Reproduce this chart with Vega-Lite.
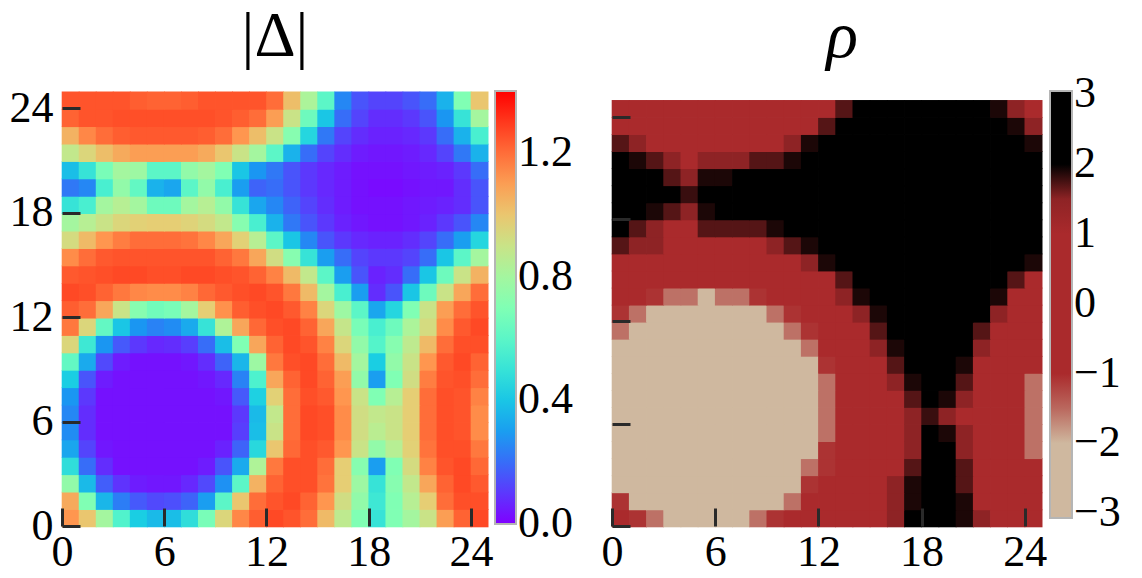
{
  "$schema": "https://vega.github.io/schema/vega-lite/v6.json",
  "background": "white",
  "padding": {"left": 9, "top": 4, "right": 0, "bottom": 0},
  "bounds": "flush",
  "spacing": 124,
  "config": {
    "font": "Liberation Serif",
    "view": {"stroke": null},
    "axis": {
      "labelFont": "Liberation Serif", "labelFontSize": 44, "labelColor": "black",
      "domain": false, "grid": false, "ticks": true, "tickSize": -18, "tickWidth": 3,
      "tickColor": "#2a2a2a", "title": null,
      "labelFlush": false, "labelOverlap": false, "labelBound": false
    },
    "legend": {
      "labelFont": "Liberation Serif", "labelFontSize": 44, "labelColor": "black",
      "gradientStrokeColor": "#b5b5b5", "gradientStrokeWidth": 2, "labelOffset": 5
    }
  },
  "data": {"values": [
    {"x":0,"y":0,"d":1.12,"r":0},{"x":1,"y":0,"d":1.0,"r":-1.2},{"x":2,"y":0,"d":0.8,"r":-1.55},{"x":3,"y":0,"d":0.57,"r":-2.4},{"x":4,"y":0,"d":0.42,"r":-2.4},{"x":5,"y":0,"d":0.37,"r":-2.4},{"x":6,"y":0,"d":0.38,"r":-2.4},{"x":7,"y":0,"d":0.48,"r":-2.4},{"x":8,"y":0,"d":0.68,"r":-1.55},{"x":9,"y":0,"d":0.95,"r":-1.2},{"x":10,"y":0,"d":1.15,"r":0},{"x":11,"y":0,"d":1.23,"r":0},{"x":12,"y":0,"d":1.27,"r":0},{"x":13,"y":0,"d":1.25,"r":0},{"x":14,"y":0,"d":1.2,"r":0},{"x":15,"y":0,"d":1.03,"r":0},{"x":16,"y":0,"d":0.87,"r":1.5},{"x":17,"y":0,"d":0.7,"r":3},{"x":18,"y":0,"d":0.5,"r":3},{"x":19,"y":0,"d":0.7,"r":3},{"x":20,"y":0,"d":0.8,"r":1.9},{"x":21,"y":0,"d":0.9,"r":1.5},{"x":22,"y":0,"d":1.1,"r":0},{"x":23,"y":0,"d":1.22,"r":0},{"x":24,"y":0,"d":1.27,"r":0},
    {"x":0,"y":1,"d":1.07,"r":-1.2},{"x":1,"y":1,"d":0.7,"r":-2.4},{"x":2,"y":1,"d":0.36,"r":-3},{"x":3,"y":1,"d":0.23,"r":-3},{"x":4,"y":1,"d":0.16,"r":-3},{"x":5,"y":1,"d":0.13,"r":-3},{"x":6,"y":1,"d":0.14,"r":-3},{"x":7,"y":1,"d":0.18,"r":-3},{"x":8,"y":1,"d":0.3,"r":-3},{"x":9,"y":1,"d":0.6,"r":-2.4},{"x":10,"y":1,"d":1.0,"r":-1.55},{"x":11,"y":1,"d":1.2,"r":0},{"x":12,"y":1,"d":1.25,"r":0},{"x":13,"y":1,"d":1.27,"r":0},{"x":14,"y":1,"d":1.22,"r":0},{"x":15,"y":1,"d":1.12,"r":0},{"x":16,"y":1,"d":0.92,"r":1.5},{"x":17,"y":1,"d":0.75,"r":1.9},{"x":18,"y":1,"d":0.52,"r":3},{"x":19,"y":1,"d":0.7,"r":3},{"x":20,"y":1,"d":0.85,"r":1.9},{"x":21,"y":1,"d":0.98,"r":0},{"x":22,"y":1,"d":1.2,"r":0},{"x":23,"y":1,"d":1.26,"r":0},{"x":24,"y":1,"d":1.26,"r":0},
    {"x":0,"y":2,"d":0.75,"r":-2.4},{"x":1,"y":2,"d":0.37,"r":-3},{"x":2,"y":2,"d":0.17,"r":-3},{"x":3,"y":2,"d":0.09,"r":-3},{"x":4,"y":2,"d":0.05,"r":-3},{"x":5,"y":2,"d":0.04,"r":-3},{"x":6,"y":2,"d":0.04,"r":-3},{"x":7,"y":2,"d":0.07,"r":-3},{"x":8,"y":2,"d":0.13,"r":-3},{"x":9,"y":2,"d":0.27,"r":-3},{"x":10,"y":2,"d":0.6,"r":-2.4},{"x":11,"y":2,"d":1.05,"r":-1.2},{"x":12,"y":2,"d":1.22,"r":0},{"x":13,"y":2,"d":1.26,"r":0},{"x":14,"y":2,"d":1.26,"r":0},{"x":15,"y":2,"d":1.19,"r":0},{"x":16,"y":2,"d":0.98,"r":1.5},{"x":17,"y":2,"d":0.78,"r":1.9},{"x":18,"y":2,"d":0.5,"r":3},{"x":19,"y":2,"d":0.72,"r":3},{"x":20,"y":2,"d":0.88,"r":1.7},{"x":21,"y":2,"d":1.08,"r":0},{"x":22,"y":2,"d":1.22,"r":0},{"x":23,"y":2,"d":1.27,"r":0},{"x":24,"y":2,"d":1.24,"r":0},
    {"x":0,"y":3,"d":0.48,"r":-3},{"x":1,"y":3,"d":0.2,"r":-3},{"x":2,"y":3,"d":0.08,"r":-3},{"x":3,"y":3,"d":0.03,"r":-3},{"x":4,"y":3,"d":0.03,"r":-3},{"x":5,"y":3,"d":0.03,"r":-3},{"x":6,"y":3,"d":0.03,"r":-3},{"x":7,"y":3,"d":0.03,"r":-3},{"x":8,"y":3,"d":0.05,"r":-3},{"x":9,"y":3,"d":0.15,"r":-3},{"x":10,"y":3,"d":0.33,"r":-3},{"x":11,"y":3,"d":0.83,"r":-1.55},{"x":12,"y":3,"d":1.18,"r":-1.2},{"x":13,"y":3,"d":1.26,"r":0},{"x":14,"y":3,"d":1.26,"r":0},{"x":15,"y":3,"d":1.2,"r":0},{"x":16,"y":3,"d":0.98,"r":0},{"x":17,"y":3,"d":0.72,"r":1.7},{"x":18,"y":3,"d":0.3,"r":3},{"x":19,"y":3,"d":0.7,"r":3},{"x":20,"y":3,"d":0.93,"r":1.7},{"x":21,"y":3,"d":1.16,"r":0},{"x":22,"y":3,"d":1.25,"r":0},{"x":23,"y":3,"d":1.27,"r":0},{"x":24,"y":3,"d":1.21,"r":0},
    {"x":0,"y":4,"d":0.32,"r":-3},{"x":1,"y":4,"d":0.12,"r":-3},{"x":2,"y":4,"d":0.04,"r":-3},{"x":3,"y":4,"d":0.03,"r":-3},{"x":4,"y":4,"d":0.03,"r":-3},{"x":5,"y":4,"d":0.03,"r":-3},{"x":6,"y":4,"d":0.03,"r":-3},{"x":7,"y":4,"d":0.03,"r":-3},{"x":8,"y":4,"d":0.03,"r":-3},{"x":9,"y":4,"d":0.06,"r":-3},{"x":10,"y":4,"d":0.18,"r":-3},{"x":11,"y":4,"d":0.46,"r":-2.4},{"x":12,"y":4,"d":1.0,"r":-1.2},{"x":13,"y":4,"d":1.21,"r":0},{"x":14,"y":4,"d":1.26,"r":0},{"x":15,"y":4,"d":1.24,"r":0},{"x":16,"y":4,"d":1.12,"r":0},{"x":17,"y":4,"d":0.9,"r":1.5},{"x":18,"y":4,"d":0.75,"r":3},{"x":19,"y":4,"d":0.85,"r":2.3},{"x":20,"y":4,"d":0.97,"r":1.5},{"x":21,"y":4,"d":1.19,"r":0},{"x":22,"y":4,"d":1.26,"r":0},{"x":23,"y":4,"d":1.26,"r":0},{"x":24,"y":4,"d":1.18,"r":-1.55},
    {"x":0,"y":5,"d":0.26,"r":-3},{"x":1,"y":5,"d":0.08,"r":-3},{"x":2,"y":5,"d":0.03,"r":-3},{"x":3,"y":5,"d":0.03,"r":-3},{"x":4,"y":5,"d":0.03,"r":-3},{"x":5,"y":5,"d":0.03,"r":-3},{"x":6,"y":5,"d":0.03,"r":-3},{"x":7,"y":5,"d":0.03,"r":-3},{"x":8,"y":5,"d":0.03,"r":-3},{"x":9,"y":5,"d":0.03,"r":-3},{"x":10,"y":5,"d":0.11,"r":-3},{"x":11,"y":5,"d":0.38,"r":-3},{"x":12,"y":5,"d":0.9,"r":-1.55},{"x":13,"y":5,"d":1.2,"r":0},{"x":14,"y":5,"d":1.27,"r":0},{"x":15,"y":5,"d":1.26,"r":0},{"x":16,"y":5,"d":1.14,"r":0},{"x":17,"y":5,"d":0.92,"r":1.5},{"x":18,"y":5,"d":0.86,"r":2.3},{"x":19,"y":5,"d":0.9,"r":1.9},{"x":20,"y":5,"d":0.98,"r":1.5},{"x":21,"y":5,"d":1.2,"r":0},{"x":22,"y":5,"d":1.26,"r":0},{"x":23,"y":5,"d":1.25,"r":0},{"x":24,"y":5,"d":1.14,"r":-1.55},
    {"x":0,"y":6,"d":0.25,"r":-3},{"x":1,"y":6,"d":0.08,"r":-3},{"x":2,"y":6,"d":0.03,"r":-3},{"x":3,"y":6,"d":0.03,"r":-3},{"x":4,"y":6,"d":0.03,"r":-3},{"x":5,"y":6,"d":0.03,"r":-3},{"x":6,"y":6,"d":0.03,"r":-3},{"x":7,"y":6,"d":0.03,"r":-3},{"x":8,"y":6,"d":0.03,"r":-3},{"x":9,"y":6,"d":0.03,"r":-3},{"x":10,"y":6,"d":0.1,"r":-3},{"x":11,"y":6,"d":0.37,"r":-3},{"x":12,"y":6,"d":0.88,"r":-1.55},{"x":13,"y":6,"d":1.2,"r":0},{"x":14,"y":6,"d":1.27,"r":0},{"x":15,"y":6,"d":1.26,"r":0},{"x":16,"y":6,"d":1.14,"r":0},{"x":17,"y":6,"d":0.92,"r":1.5},{"x":18,"y":6,"d":0.88,"r":1.8},{"x":19,"y":6,"d":0.9,"r":1.5},{"x":20,"y":6,"d":0.98,"r":0},{"x":21,"y":6,"d":1.2,"r":0},{"x":22,"y":6,"d":1.26,"r":0},{"x":23,"y":6,"d":1.25,"r":0},{"x":24,"y":6,"d":1.14,"r":-1.55},
    {"x":0,"y":7,"d":0.28,"r":-3},{"x":1,"y":7,"d":0.1,"r":-3},{"x":2,"y":7,"d":0.03,"r":-3},{"x":3,"y":7,"d":0.03,"r":-3},{"x":4,"y":7,"d":0.03,"r":-3},{"x":5,"y":7,"d":0.03,"r":-3},{"x":6,"y":7,"d":0.03,"r":-3},{"x":7,"y":7,"d":0.03,"r":-3},{"x":8,"y":7,"d":0.03,"r":-3},{"x":9,"y":7,"d":0.04,"r":-3},{"x":10,"y":7,"d":0.16,"r":-3},{"x":11,"y":7,"d":0.43,"r":-3},{"x":12,"y":7,"d":0.97,"r":-1.55},{"x":13,"y":7,"d":1.2,"r":0},{"x":14,"y":7,"d":1.26,"r":0},{"x":15,"y":7,"d":1.24,"r":0},{"x":16,"y":7,"d":1.12,"r":0},{"x":17,"y":7,"d":0.9,"r":1.7},{"x":18,"y":7,"d":0.7,"r":3},{"x":19,"y":7,"d":0.85,"r":1.9},{"x":20,"y":7,"d":0.98,"r":1.5},{"x":21,"y":7,"d":1.2,"r":0},{"x":22,"y":7,"d":1.26,"r":0},{"x":23,"y":7,"d":1.25,"r":0},{"x":24,"y":7,"d":1.16,"r":-1.55},
    {"x":0,"y":8,"d":0.42,"r":-3},{"x":1,"y":8,"d":0.15,"r":-3},{"x":2,"y":8,"d":0.05,"r":-3},{"x":3,"y":8,"d":0.03,"r":-3},{"x":4,"y":8,"d":0.03,"r":-3},{"x":5,"y":8,"d":0.03,"r":-3},{"x":6,"y":8,"d":0.03,"r":-3},{"x":7,"y":8,"d":0.03,"r":-3},{"x":8,"y":8,"d":0.04,"r":-3},{"x":9,"y":8,"d":0.07,"r":-3},{"x":10,"y":8,"d":0.24,"r":-3},{"x":11,"y":8,"d":0.56,"r":-3},{"x":12,"y":8,"d":1.08,"r":-1.55},{"x":13,"y":8,"d":1.22,"r":0},{"x":14,"y":8,"d":1.27,"r":0},{"x":15,"y":8,"d":1.22,"r":0},{"x":16,"y":8,"d":1.1,"r":1.5},{"x":17,"y":8,"d":0.75,"r":1.9},{"x":18,"y":8,"d":0.3,"r":3},{"x":19,"y":8,"d":0.7,"r":3},{"x":20,"y":8,"d":0.92,"r":1.7},{"x":21,"y":8,"d":1.17,"r":0},{"x":22,"y":8,"d":1.25,"r":0},{"x":23,"y":8,"d":1.26,"r":0},{"x":24,"y":8,"d":1.2,"r":-1.55},
    {"x":0,"y":9,"d":0.62,"r":-3},{"x":1,"y":9,"d":0.33,"r":-3},{"x":2,"y":9,"d":0.13,"r":-3},{"x":3,"y":9,"d":0.05,"r":-3},{"x":4,"y":9,"d":0.03,"r":-3},{"x":5,"y":9,"d":0.03,"r":-3},{"x":6,"y":9,"d":0.03,"r":-3},{"x":7,"y":9,"d":0.04,"r":-3},{"x":8,"y":9,"d":0.08,"r":-3},{"x":9,"y":9,"d":0.18,"r":-3},{"x":10,"y":9,"d":0.36,"r":-3},{"x":11,"y":9,"d":0.78,"r":-2.4},{"x":12,"y":9,"d":1.18,"r":-1.2},{"x":13,"y":9,"d":1.26,"r":0},{"x":14,"y":9,"d":1.27,"r":0},{"x":15,"y":9,"d":1.2,"r":0},{"x":16,"y":9,"d":1.03,"r":1.7},{"x":17,"y":9,"d":0.8,"r":3},{"x":18,"y":9,"d":0.42,"r":3},{"x":19,"y":9,"d":0.75,"r":3},{"x":20,"y":9,"d":0.9,"r":1.9},{"x":21,"y":9,"d":1.12,"r":0},{"x":22,"y":9,"d":1.24,"r":0},{"x":23,"y":9,"d":1.27,"r":0},{"x":24,"y":9,"d":1.22,"r":0},
    {"x":0,"y":10,"d":0.95,"r":-2.4},{"x":1,"y":10,"d":0.52,"r":-3},{"x":2,"y":10,"d":0.28,"r":-3},{"x":3,"y":10,"d":0.16,"r":-3},{"x":4,"y":10,"d":0.1,"r":-3},{"x":5,"y":10,"d":0.07,"r":-3},{"x":6,"y":10,"d":0.08,"r":-3},{"x":7,"y":10,"d":0.11,"r":-3},{"x":8,"y":10,"d":0.2,"r":-3},{"x":9,"y":10,"d":0.38,"r":-3},{"x":10,"y":10,"d":0.7,"r":-3},{"x":11,"y":10,"d":1.08,"r":-1.55},{"x":12,"y":10,"d":1.22,"r":0},{"x":13,"y":10,"d":1.27,"r":0},{"x":14,"y":10,"d":1.25,"r":0},{"x":15,"y":10,"d":1.16,"r":1.5},{"x":16,"y":10,"d":0.95,"r":1.9},{"x":17,"y":10,"d":0.75,"r":3},{"x":18,"y":10,"d":0.58,"r":3},{"x":19,"y":10,"d":0.72,"r":3},{"x":20,"y":10,"d":0.87,"r":2.3},{"x":21,"y":10,"d":1.03,"r":1.5},{"x":22,"y":10,"d":1.2,"r":0},{"x":23,"y":10,"d":1.26,"r":0},{"x":24,"y":10,"d":1.26,"r":0},
    {"x":0,"y":11,"d":1.18,"r":-1.55},{"x":1,"y":11,"d":0.95,"r":-3},{"x":2,"y":11,"d":0.62,"r":-3},{"x":3,"y":11,"d":0.4,"r":-3},{"x":4,"y":11,"d":0.28,"r":-3},{"x":5,"y":11,"d":0.24,"r":-3},{"x":6,"y":11,"d":0.26,"r":-3},{"x":7,"y":11,"d":0.33,"r":-3},{"x":8,"y":11,"d":0.5,"r":-3},{"x":9,"y":11,"d":0.83,"r":-3},{"x":10,"y":11,"d":1.08,"r":-1.55},{"x":11,"y":11,"d":1.21,"r":-1.2},{"x":12,"y":11,"d":1.26,"r":0},{"x":13,"y":11,"d":1.27,"r":0},{"x":14,"y":11,"d":1.22,"r":0},{"x":15,"y":11,"d":1.08,"r":1.7},{"x":16,"y":11,"d":0.89,"r":3},{"x":17,"y":11,"d":0.68,"r":3},{"x":18,"y":11,"d":0.55,"r":3},{"x":19,"y":11,"d":0.65,"r":3},{"x":20,"y":11,"d":0.82,"r":3},{"x":21,"y":11,"d":0.93,"r":1.7},{"x":22,"y":11,"d":1.14,"r":0},{"x":23,"y":11,"d":1.24,"r":0},{"x":24,"y":11,"d":1.27,"r":0},
    {"x":0,"y":12,"d":1.23,"r":-1.2},{"x":1,"y":12,"d":1.2,"r":-1.55},{"x":2,"y":12,"d":1.08,"r":-2.4},{"x":3,"y":12,"d":0.9,"r":-3},{"x":4,"y":12,"d":0.72,"r":-3},{"x":5,"y":12,"d":0.66,"r":-3},{"x":6,"y":12,"d":0.68,"r":-3},{"x":7,"y":12,"d":0.8,"r":-3},{"x":8,"y":12,"d":0.98,"r":-2.4},{"x":9,"y":12,"d":1.13,"r":-1.55},{"x":10,"y":12,"d":1.23,"r":-1.2},{"x":11,"y":12,"d":1.26,"r":0},{"x":12,"y":12,"d":1.27,"r":0},{"x":13,"y":12,"d":1.24,"r":0},{"x":14,"y":12,"d":1.16,"r":1.5},{"x":15,"y":12,"d":0.95,"r":1.9},{"x":16,"y":12,"d":0.78,"r":3},{"x":17,"y":12,"d":0.6,"r":3},{"x":18,"y":12,"d":0.32,"r":3},{"x":19,"y":12,"d":0.45,"r":3},{"x":20,"y":12,"d":0.7,"r":3},{"x":21,"y":12,"d":0.9,"r":2.3},{"x":22,"y":12,"d":1.1,"r":1.5},{"x":23,"y":12,"d":1.2,"r":0},{"x":24,"y":12,"d":1.25,"r":0},
    {"x":0,"y":13,"d":1.27,"r":0},{"x":1,"y":13,"d":1.26,"r":0},{"x":2,"y":13,"d":1.22,"r":-1.2},{"x":3,"y":13,"d":1.18,"r":-1.55},{"x":4,"y":13,"d":1.15,"r":-1.55},{"x":5,"y":13,"d":1.14,"r":-2.4},{"x":6,"y":13,"d":1.14,"r":-1.55},{"x":7,"y":13,"d":1.16,"r":-1.55},{"x":8,"y":13,"d":1.21,"r":-1.2},{"x":9,"y":13,"d":1.24,"r":0},{"x":10,"y":13,"d":1.26,"r":0},{"x":11,"y":13,"d":1.27,"r":0},{"x":12,"y":13,"d":1.25,"r":0},{"x":13,"y":13,"d":1.18,"r":1.5},{"x":14,"y":13,"d":1.03,"r":1.9},{"x":15,"y":13,"d":0.8,"r":3},{"x":16,"y":13,"d":0.55,"r":3},{"x":17,"y":13,"d":0.3,"r":3},{"x":18,"y":13,"d":0.08,"r":3},{"x":19,"y":13,"d":0.15,"r":3},{"x":20,"y":13,"d":0.4,"r":3},{"x":21,"y":13,"d":0.65,"r":3},{"x":22,"y":13,"d":0.9,"r":1.9},{"x":23,"y":13,"d":1.08,"r":0},{"x":24,"y":13,"d":1.2,"r":0},
    {"x":0,"y":14,"d":1.24,"r":0},{"x":1,"y":14,"d":1.25,"r":0},{"x":2,"y":14,"d":1.26,"r":0},{"x":3,"y":14,"d":1.27,"r":0},{"x":4,"y":14,"d":1.27,"r":0},{"x":5,"y":14,"d":1.26,"r":0},{"x":6,"y":14,"d":1.26,"r":0},{"x":7,"y":14,"d":1.27,"r":0},{"x":8,"y":14,"d":1.27,"r":0},{"x":9,"y":14,"d":1.26,"r":0},{"x":10,"y":14,"d":1.25,"r":0},{"x":11,"y":14,"d":1.22,"r":0},{"x":12,"y":14,"d":1.16,"r":0},{"x":13,"y":14,"d":1.03,"r":1.7},{"x":14,"y":14,"d":0.88,"r":3},{"x":15,"y":14,"d":0.6,"r":3},{"x":16,"y":14,"d":0.3,"r":3},{"x":17,"y":14,"d":0.15,"r":3},{"x":18,"y":14,"d":0.06,"r":3},{"x":19,"y":14,"d":0.08,"r":3},{"x":20,"y":14,"d":0.2,"r":3},{"x":21,"y":14,"d":0.4,"r":3},{"x":22,"y":14,"d":0.65,"r":3},{"x":23,"y":14,"d":0.9,"r":1.7},{"x":24,"y":14,"d":1.05,"r":0},
    {"x":0,"y":15,"d":1.14,"r":0},{"x":1,"y":15,"d":1.2,"r":0},{"x":2,"y":15,"d":1.24,"r":0},{"x":3,"y":15,"d":1.25,"r":0},{"x":4,"y":15,"d":1.25,"r":0},{"x":5,"y":15,"d":1.25,"r":0},{"x":6,"y":15,"d":1.25,"r":0},{"x":7,"y":15,"d":1.25,"r":0},{"x":8,"y":15,"d":1.25,"r":0},{"x":9,"y":15,"d":1.22,"r":0},{"x":10,"y":15,"d":1.18,"r":0},{"x":11,"y":15,"d":1.08,"r":1.5},{"x":12,"y":15,"d":0.92,"r":1.9},{"x":13,"y":15,"d":0.72,"r":3},{"x":14,"y":15,"d":0.5,"r":3},{"x":15,"y":15,"d":0.3,"r":3},{"x":16,"y":15,"d":0.2,"r":3},{"x":17,"y":15,"d":0.12,"r":3},{"x":18,"y":15,"d":0.1,"r":3},{"x":19,"y":15,"d":0.1,"r":3},{"x":20,"y":15,"d":0.12,"r":3},{"x":21,"y":15,"d":0.2,"r":3},{"x":22,"y":15,"d":0.4,"r":3},{"x":23,"y":15,"d":0.6,"r":3},{"x":24,"y":15,"d":0.8,"r":1.9},
    {"x":0,"y":16,"d":0.93,"r":1.7},{"x":1,"y":16,"d":1.03,"r":1.5},{"x":2,"y":16,"d":1.12,"r":1.5},{"x":3,"y":16,"d":1.17,"r":0},{"x":4,"y":16,"d":1.2,"r":0},{"x":5,"y":16,"d":1.2,"r":0},{"x":6,"y":16,"d":1.2,"r":0},{"x":7,"y":16,"d":1.19,"r":0},{"x":8,"y":16,"d":1.15,"r":0},{"x":9,"y":16,"d":1.08,"r":1.5},{"x":10,"y":16,"d":0.97,"r":1.7},{"x":11,"y":16,"d":0.85,"r":1.9},{"x":12,"y":16,"d":0.6,"r":3},{"x":13,"y":16,"d":0.4,"r":3},{"x":14,"y":16,"d":0.25,"r":3},{"x":15,"y":16,"d":0.15,"r":3},{"x":16,"y":16,"d":0.1,"r":3},{"x":17,"y":16,"d":0.07,"r":3},{"x":18,"y":16,"d":0.06,"r":3},{"x":19,"y":16,"d":0.06,"r":3},{"x":20,"y":16,"d":0.08,"r":3},{"x":21,"y":16,"d":0.12,"r":3},{"x":22,"y":16,"d":0.2,"r":3},{"x":23,"y":16,"d":0.3,"r":3},{"x":24,"y":16,"d":0.45,"r":3},
    {"x":0,"y":17,"d":0.8,"r":3},{"x":1,"y":17,"d":0.85,"r":1.7},{"x":2,"y":17,"d":0.9,"r":1.5},{"x":3,"y":17,"d":0.95,"r":0},{"x":4,"y":17,"d":0.97,"r":0},{"x":5,"y":17,"d":0.98,"r":1.7},{"x":6,"y":17,"d":0.98,"r":1.7},{"x":7,"y":17,"d":0.96,"r":1.7},{"x":8,"y":17,"d":0.93,"r":1.7},{"x":9,"y":17,"d":0.88,"r":1.9},{"x":10,"y":17,"d":0.72,"r":3},{"x":11,"y":17,"d":0.55,"r":3},{"x":12,"y":17,"d":0.35,"r":3},{"x":13,"y":17,"d":0.22,"r":3},{"x":14,"y":17,"d":0.15,"r":3},{"x":15,"y":17,"d":0.1,"r":3},{"x":16,"y":17,"d":0.06,"r":3},{"x":17,"y":17,"d":0.04,"r":3},{"x":18,"y":17,"d":0.03,"r":3},{"x":19,"y":17,"d":0.03,"r":3},{"x":20,"y":17,"d":0.04,"r":3},{"x":21,"y":17,"d":0.06,"r":3},{"x":22,"y":17,"d":0.1,"r":3},{"x":23,"y":17,"d":0.15,"r":3},{"x":24,"y":17,"d":0.25,"r":3},
    {"x":0,"y":18,"d":0.5,"r":3},{"x":1,"y":18,"d":0.55,"r":3},{"x":2,"y":18,"d":0.8,"r":1.9},{"x":3,"y":18,"d":0.85,"r":1.7},{"x":4,"y":18,"d":0.8,"r":1.5},{"x":5,"y":18,"d":0.65,"r":1.9},{"x":6,"y":18,"d":0.65,"r":3},{"x":7,"y":18,"d":0.8,"r":3},{"x":8,"y":18,"d":0.85,"r":3},{"x":9,"y":18,"d":0.75,"r":3},{"x":10,"y":18,"d":0.5,"r":3},{"x":11,"y":18,"d":0.32,"r":3},{"x":12,"y":18,"d":0.25,"r":3},{"x":13,"y":18,"d":0.18,"r":3},{"x":14,"y":18,"d":0.12,"r":3},{"x":15,"y":18,"d":0.08,"r":3},{"x":16,"y":18,"d":0.05,"r":3},{"x":17,"y":18,"d":0.03,"r":3},{"x":18,"y":18,"d":0.03,"r":3},{"x":19,"y":18,"d":0.03,"r":3},{"x":20,"y":18,"d":0.04,"r":3},{"x":21,"y":18,"d":0.05,"r":3},{"x":22,"y":18,"d":0.06,"r":3},{"x":23,"y":18,"d":0.08,"r":3},{"x":24,"y":18,"d":0.15,"r":3},
    {"x":0,"y":19,"d":0.22,"r":3},{"x":1,"y":19,"d":0.25,"r":3},{"x":2,"y":19,"d":0.55,"r":3},{"x":3,"y":19,"d":0.75,"r":2.3},{"x":4,"y":19,"d":0.62,"r":1.8},{"x":5,"y":19,"d":0.35,"r":2.3},{"x":6,"y":19,"d":0.32,"r":3},{"x":7,"y":19,"d":0.6,"r":3},{"x":8,"y":19,"d":0.75,"r":3},{"x":9,"y":19,"d":0.55,"r":3},{"x":10,"y":19,"d":0.3,"r":3},{"x":11,"y":19,"d":0.18,"r":3},{"x":12,"y":19,"d":0.2,"r":3},{"x":13,"y":19,"d":0.15,"r":3},{"x":14,"y":19,"d":0.1,"r":3},{"x":15,"y":19,"d":0.07,"r":3},{"x":16,"y":19,"d":0.05,"r":3},{"x":17,"y":19,"d":0.03,"r":3},{"x":18,"y":19,"d":0.02,"r":3},{"x":19,"y":19,"d":0.02,"r":3},{"x":20,"y":19,"d":0.03,"r":3},{"x":21,"y":19,"d":0.04,"r":3},{"x":22,"y":19,"d":0.04,"r":3},{"x":23,"y":19,"d":0.08,"r":3},{"x":24,"y":19,"d":0.15,"r":3},
    {"x":0,"y":20,"d":0.38,"r":3},{"x":1,"y":20,"d":0.5,"r":3},{"x":2,"y":20,"d":0.68,"r":3},{"x":3,"y":20,"d":0.8,"r":1.7},{"x":4,"y":20,"d":0.78,"r":1.5},{"x":5,"y":20,"d":0.6,"r":1.9},{"x":6,"y":20,"d":0.6,"r":1.9},{"x":7,"y":20,"d":0.75,"r":2.3},{"x":8,"y":20,"d":0.8,"r":3},{"x":9,"y":20,"d":0.7,"r":3},{"x":10,"y":20,"d":0.4,"r":3},{"x":11,"y":20,"d":0.28,"r":3},{"x":12,"y":20,"d":0.22,"r":3},{"x":13,"y":20,"d":0.15,"r":3},{"x":14,"y":20,"d":0.1,"r":3},{"x":15,"y":20,"d":0.07,"r":3},{"x":16,"y":20,"d":0.05,"r":3},{"x":17,"y":20,"d":0.03,"r":3},{"x":18,"y":20,"d":0.03,"r":3},{"x":19,"y":20,"d":0.03,"r":3},{"x":20,"y":20,"d":0.04,"r":3},{"x":21,"y":20,"d":0.05,"r":3},{"x":22,"y":20,"d":0.06,"r":3},{"x":23,"y":20,"d":0.1,"r":3},{"x":24,"y":20,"d":0.2,"r":3},
    {"x":0,"y":21,"d":0.88,"r":3},{"x":1,"y":21,"d":0.95,"r":1.9},{"x":2,"y":21,"d":1.02,"r":1.7},{"x":3,"y":21,"d":1.07,"r":1.5},{"x":4,"y":21,"d":1.1,"r":0},{"x":5,"y":21,"d":1.1,"r":1.5},{"x":6,"y":21,"d":1.1,"r":1.5},{"x":7,"y":21,"d":1.1,"r":1.5},{"x":8,"y":21,"d":1.07,"r":1.7},{"x":9,"y":21,"d":1.0,"r":1.7},{"x":10,"y":21,"d":0.9,"r":1.9},{"x":11,"y":21,"d":0.8,"r":3},{"x":12,"y":21,"d":0.6,"r":3},{"x":13,"y":21,"d":0.35,"r":3},{"x":14,"y":21,"d":0.2,"r":3},{"x":15,"y":21,"d":0.12,"r":3},{"x":16,"y":21,"d":0.08,"r":3},{"x":17,"y":21,"d":0.05,"r":3},{"x":18,"y":21,"d":0.04,"r":3},{"x":19,"y":21,"d":0.04,"r":3},{"x":20,"y":21,"d":0.05,"r":3},{"x":21,"y":21,"d":0.07,"r":3},{"x":22,"y":21,"d":0.12,"r":3},{"x":23,"y":21,"d":0.22,"r":3},{"x":24,"y":21,"d":0.35,"r":3},
    {"x":0,"y":22,"d":1.05,"r":1.7},{"x":1,"y":22,"d":1.15,"r":1.5},{"x":2,"y":22,"d":1.2,"r":0},{"x":3,"y":22,"d":1.23,"r":0},{"x":4,"y":22,"d":1.24,"r":0},{"x":5,"y":22,"d":1.24,"r":0},{"x":6,"y":22,"d":1.24,"r":0},{"x":7,"y":22,"d":1.24,"r":0},{"x":8,"y":22,"d":1.23,"r":0},{"x":9,"y":22,"d":1.2,"r":0},{"x":10,"y":22,"d":1.12,"r":1.5},{"x":11,"y":22,"d":1.02,"r":1.9},{"x":12,"y":22,"d":0.9,"r":3},{"x":13,"y":22,"d":0.72,"r":3},{"x":14,"y":22,"d":0.45,"r":3},{"x":15,"y":22,"d":0.22,"r":3},{"x":16,"y":22,"d":0.12,"r":3},{"x":17,"y":22,"d":0.08,"r":3},{"x":18,"y":22,"d":0.06,"r":3},{"x":19,"y":22,"d":0.06,"r":3},{"x":20,"y":22,"d":0.07,"r":3},{"x":21,"y":22,"d":0.1,"r":3},{"x":22,"y":22,"d":0.2,"r":3},{"x":23,"y":22,"d":0.35,"r":3},{"x":24,"y":22,"d":0.55,"r":1.9},
    {"x":0,"y":23,"d":1.22,"r":0},{"x":1,"y":23,"d":1.25,"r":0},{"x":2,"y":23,"d":1.25,"r":0},{"x":3,"y":23,"d":1.26,"r":0},{"x":4,"y":23,"d":1.26,"r":0},{"x":5,"y":23,"d":1.26,"r":0},{"x":6,"y":23,"d":1.26,"r":0},{"x":7,"y":23,"d":1.26,"r":0},{"x":8,"y":23,"d":1.26,"r":0},{"x":9,"y":23,"d":1.25,"r":0},{"x":10,"y":23,"d":1.23,"r":0},{"x":11,"y":23,"d":1.2,"r":0},{"x":12,"y":23,"d":1.1,"r":1.7},{"x":13,"y":23,"d":0.9,"r":3},{"x":14,"y":23,"d":0.65,"r":3},{"x":15,"y":23,"d":0.4,"r":3},{"x":16,"y":23,"d":0.2,"r":3},{"x":17,"y":23,"d":0.12,"r":3},{"x":18,"y":23,"d":0.08,"r":3},{"x":19,"y":23,"d":0.08,"r":3},{"x":20,"y":23,"d":0.1,"r":3},{"x":21,"y":23,"d":0.15,"r":3},{"x":22,"y":23,"d":0.28,"r":3},{"x":23,"y":23,"d":0.5,"r":1.9},{"x":24,"y":23,"d":0.8,"r":1.5},
    {"x":0,"y":24,"d":1.25,"r":0},{"x":1,"y":24,"d":1.25,"r":0},{"x":2,"y":24,"d":1.25,"r":0},{"x":3,"y":24,"d":1.25,"r":0},{"x":4,"y":24,"d":1.23,"r":0},{"x":5,"y":24,"d":1.22,"r":0},{"x":6,"y":24,"d":1.22,"r":0},{"x":7,"y":24,"d":1.23,"r":0},{"x":8,"y":24,"d":1.25,"r":0},{"x":9,"y":24,"d":1.25,"r":0},{"x":10,"y":24,"d":1.25,"r":0},{"x":11,"y":24,"d":1.25,"r":0},{"x":12,"y":24,"d":1.2,"r":0},{"x":13,"y":24,"d":1.02,"r":1.7},{"x":14,"y":24,"d":0.82,"r":3},{"x":15,"y":24,"d":0.6,"r":3},{"x":16,"y":24,"d":0.25,"r":3},{"x":17,"y":24,"d":0.15,"r":3},{"x":18,"y":24,"d":0.12,"r":3},{"x":19,"y":24,"d":0.12,"r":3},{"x":20,"y":24,"d":0.15,"r":3},{"x":21,"y":24,"d":0.2,"r":3},{"x":22,"y":24,"d":0.35,"r":1.9},{"x":23,"y":24,"d":0.7,"r":1.5},{"x":24,"y":24,"d":1.0,"r":0}
  ]},
  "hconcat": [
    {
      "width": 426,
      "height": 435,
      "title": {"text": "|Δ|", "font": "Liberation Serif", "fontSize": 64, "fontWeight": "normal", "frame": "group", "offset": 17},
      "mark": {"type": "rect", "binSpacing": 0, "x2Offset": -0.8, "y2Offset": 0.8},
      "encoding": {
        "x": {"field": "x", "type": "quantitative", "bin": {"step": 1, "extent": [0, 25]},
              "axis": {"values": [0, 6, 12, 18, 24], "format": "d", "labelPadding": 22}},
        "y": {"field": "y", "type": "quantitative", "bin": {"step": 1, "extent": [0, 25]},
              "axis": {"values": [0, 6, 12, 18, 24], "format": "d", "labelPadding": 27}},
        "color": {
          "field": "d", "type": "quantitative",
          "scale": {
            "domain": [0, 0.14, 0.28, 0.42, 0.56, 0.7, 0.84, 0.98, 1.12, 1.26, 1.4],
            "range": ["#8000ff", "#4d4ffc", "#1a96f2", "#1acee3", "#4df2ce", "#80ffb4", "#b3f296", "#e6ce74", "#ff964f", "#ff4f28", "#ff0000"],
            "interpolate": "rgb", "nice": false, "zero": false
          },
          "legend": {"type": "gradient", "title": null, "orient": "right", "offset": 7,
                     "gradientLength": 433, "gradientThickness": 21,
                     "values": [0, 0.4, 0.8, 1.2], "format": ".1f",
                     "encode": {"labels": {"update": {"baseline": {"value": "middle"}}}}}
        }
      }
    },
    {
      "width": 430,
      "height": 435,
      "title": {"text": "ρ", "font": "Liberation Serif", "fontSize": 66, "fontStyle": "italic", "fontWeight": "normal", "frame": "group", "offset": 20, "dx": 15},
      "mark": {"type": "rect", "binSpacing": 0, "x2Offset": -0.8, "y2Offset": 0.8},
      "encoding": {
        "x": {"field": "x", "type": "quantitative", "bin": {"step": 1, "extent": [0, 25]},
              "axis": {"values": [0, 6, 12, 18, 24], "format": "d", "labelPadding": 22}},
        "y": {"field": "y", "type": "quantitative", "bin": {"step": 1, "extent": [0, 25]},
              "scale": {"domain": [0, 25.5]},
              "axis": {"values": [0, 6, 12, 18, 24], "labels": false}},
        "color": {
          "field": "r", "type": "quantitative",
          "scale": {
            "domain": [-3.07, -1.95, -1.15, 1.4, 2.0, 3.05],
            "range": ["#cfb89f", "#cfb89f", "#aa2a2c", "#aa2a2c", "#000000", "#000000"],
            "interpolate": "rgb", "nice": false, "zero": false
          },
          "legend": {"type": "gradient", "title": null, "orient": "right", "offset": 8,
                     "gradientLength": 427, "gradientThickness": 22,
                     "values": [-3, -2, -1, 0, 1, 2, 3], "format": "d"}
        }
      }
    }
  ],
  "resolve": {"scale": {"color": "independent", "x": "independent", "y": "independent"}}
}
